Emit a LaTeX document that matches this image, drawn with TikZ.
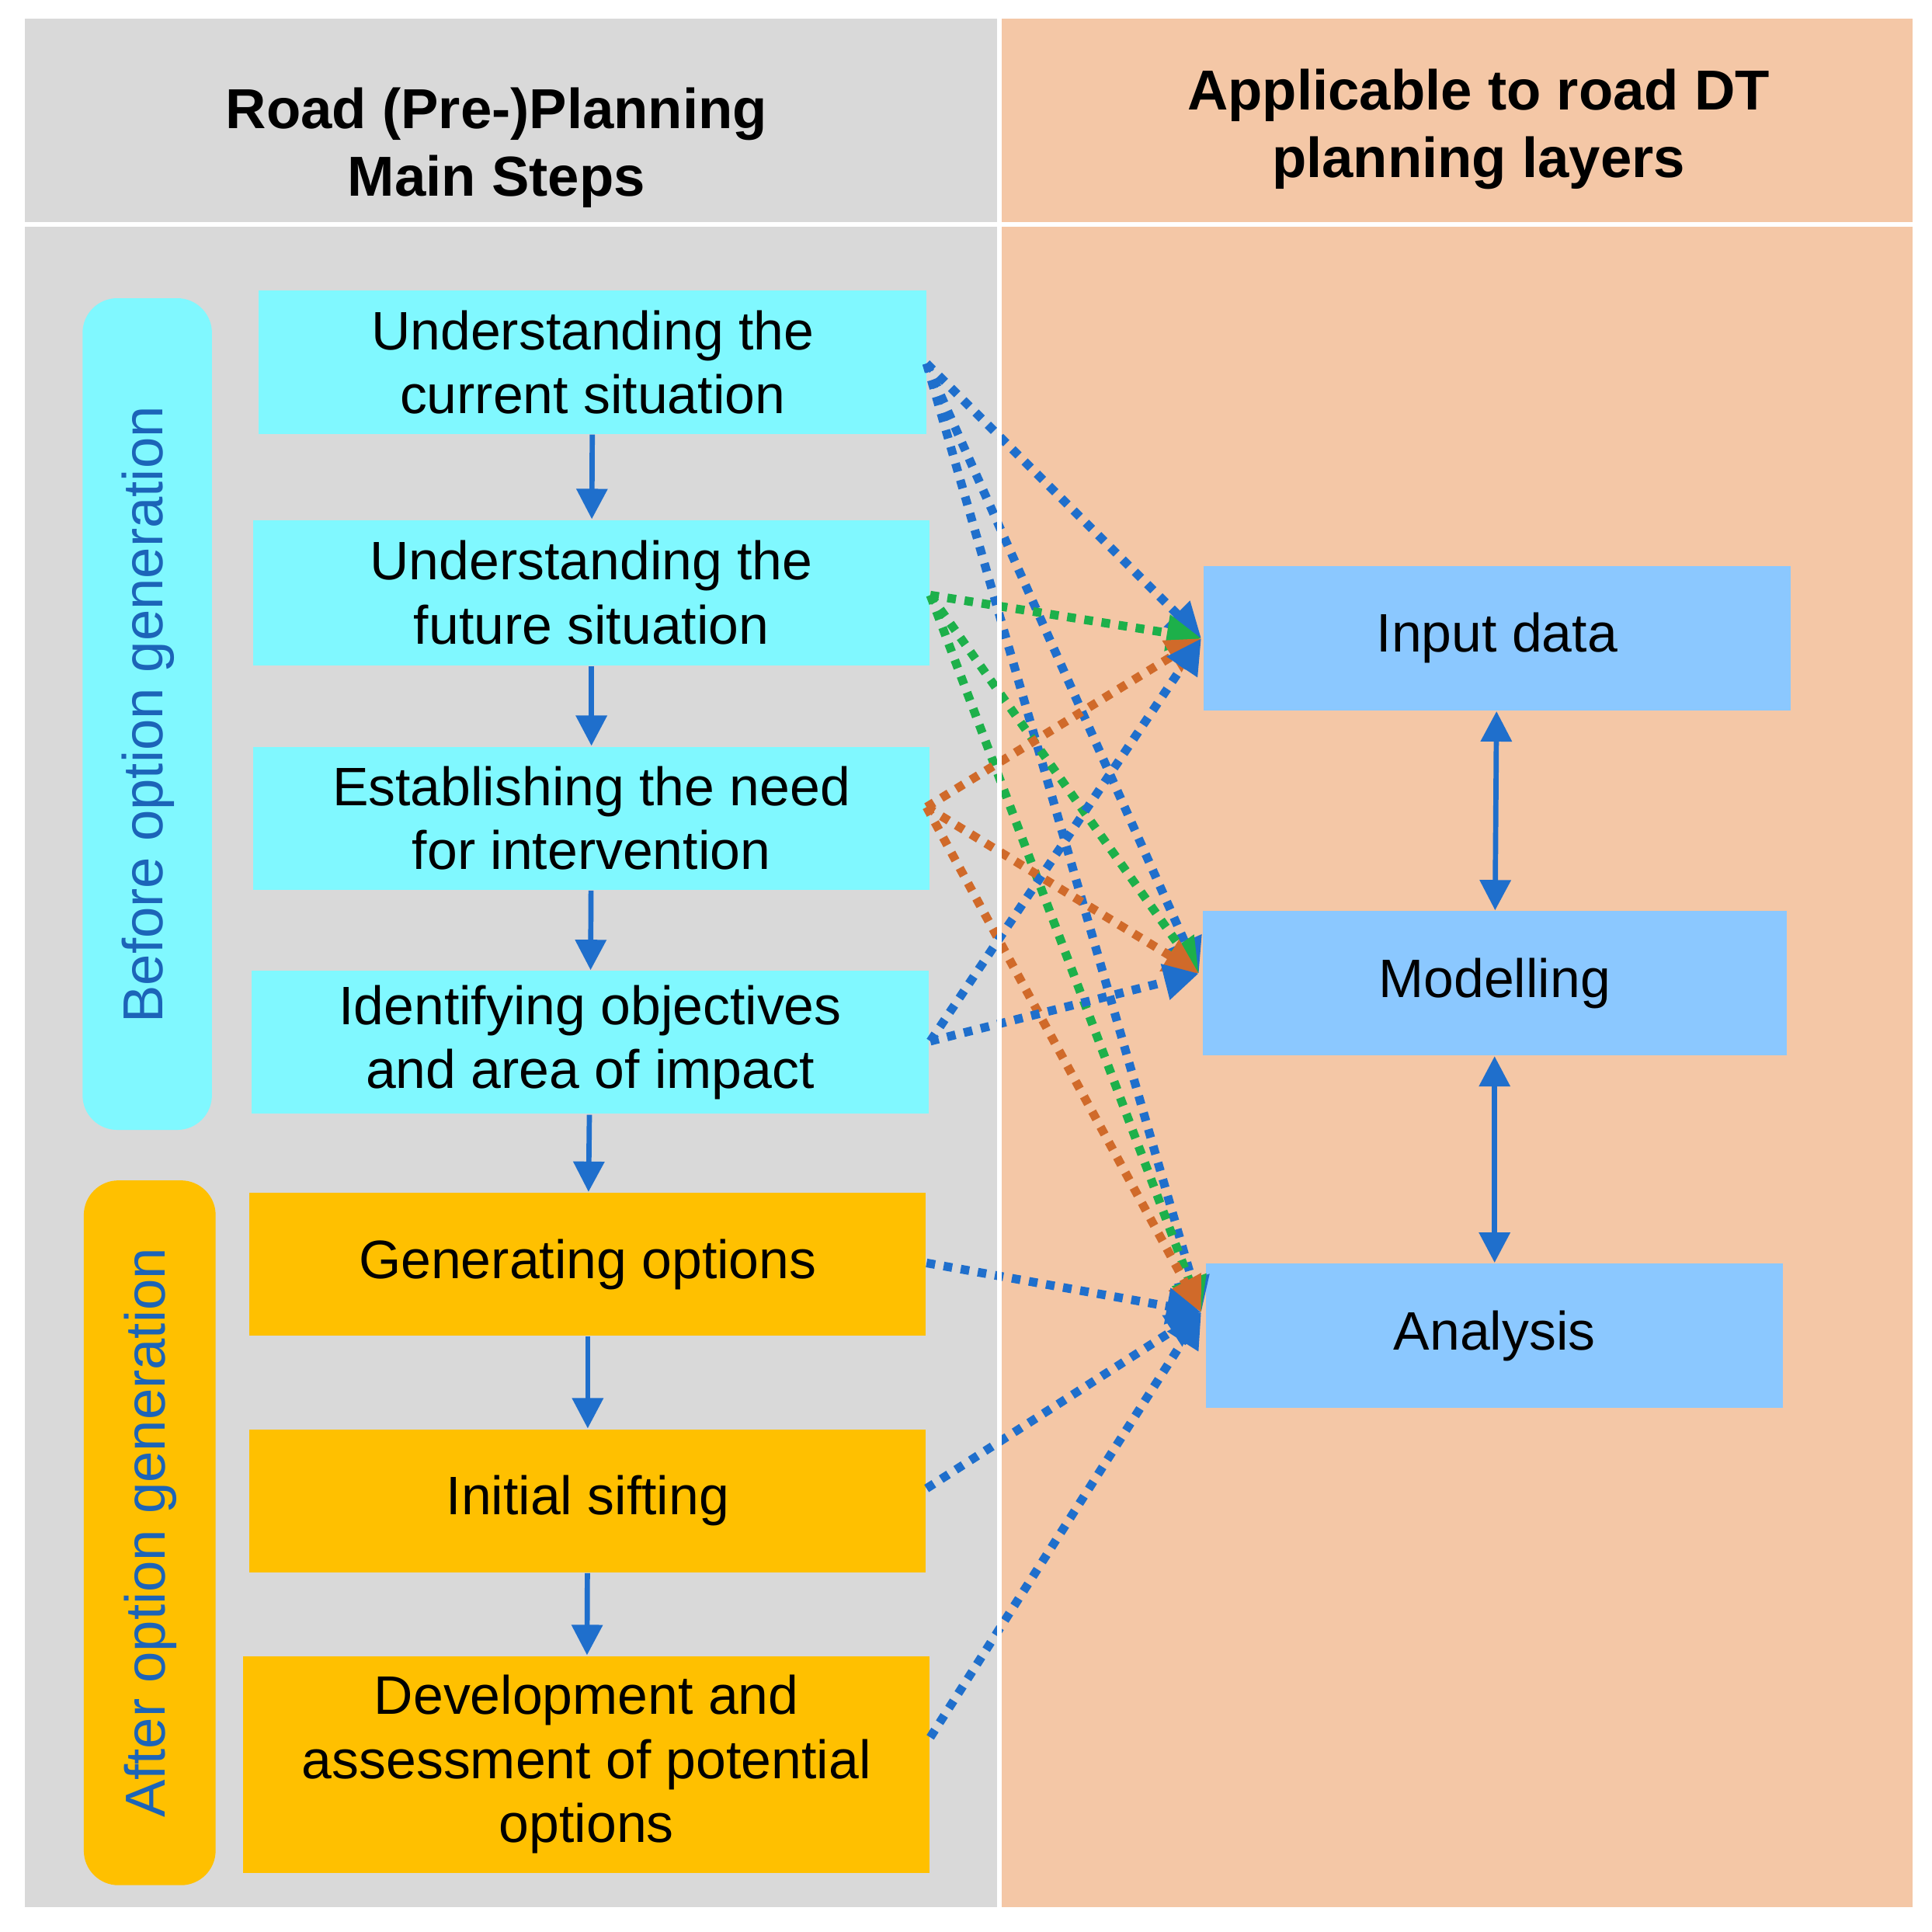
\documentclass[tikz,border=0pt]{standalone}
\usepackage{fontspec}
\setmainfont{Liberation Sans}
\usetikzlibrary{arrows.meta}
\definecolor{cy}{HTML}{80F8FF}
\definecolor{orb}{HTML}{FFC000}
\definecolor{lb}{HTML}{8BC8FF}
\definecolor{gr}{HTML}{D9D9D9}
\definecolor{pe}{HTML}{F4C7A6}
\definecolor{ab}{HTML}{1F6FCC}
\definecolor{dg}{HTML}{1DB04A}
\definecolor{do}{HTML}{D06A2A}
\begin{document}
\begin{tikzpicture}[x=0.01cm,y=-0.01cm,
  box/.style 2 args={draw=none,minimum width=#1*0.01cm,minimum height=#2*0.01cm,align=center,font=\fontsize{12.5}{14.8}\selectfont,inner sep=0pt},
  flow/.style={-{Triangle[length=7pt,width=7pt]},ab,line width=1.2pt},
  dual/.style={{Triangle[length=7pt,width=7pt]}-{Triangle[length=7pt,width=7pt]},ab,line width=1.2pt},
  dot/.style={dotted,line width=2pt,-{Triangle[length=8pt,width=8pt]}}]
\useasboundingbox (0,0) rectangle (1568,1568);
\fill[white] (0,0) rectangle (1568,1568);
\fill[gr] (20,15) rectangle (810,1548);
\fill[pe] (812,15) rectangle (1552,1548);
\draw[white,line width=1pt] (20,182) -- (1552,182);
\node[font=\bfseries\fontsize{13}{15.5}\selectfont,align=center] (h1) at (403,120) {Road (Pre-)Planning\\Main Steps};
\node[font=\bfseries\fontsize{13}{15.5}\selectfont,align=center] (h2) at (1200,105) {Applicable to road DT\\planning layers};
\fill[cy,rounded corners=8pt] (67,242) rectangle (172,917);
\node[rotate=90,font=\fontsize{13}{15}\selectfont,text=ab!90!black] (s1) at (120,580) {Before option generation};
\fill[orb,rounded corners=8pt] (68,958) rectangle (175,1530);
\node[rotate=90,font=\fontsize{13}{15}\selectfont,text=ab!90!black] (s2) at (122,1244) {After option generation};
\node[box={542}{116},fill=cy] (b1) at (481,294) {Understanding the\\current situation};
\node[box={549}{118},fill=cy] (b2) at (480,481) {Understanding the\\future situation};
\node[box={549}{116},fill=cy] (b3) at (480,664) {Establishing the need\\for intervention};
\node[box={550}{116},fill=cy] (b4) at (479,846) {Identifying objectives\\and area of impact};
\node[box={549}{116},fill=orb] (b5) at (477,1026) {Generating options};
\node[box={549}{116},fill=orb] (b6) at (477,1218) {Initial sifting};
\node[box={557}{176},fill=orb] (b7) at (476,1432) {Development and\\assessment of potential\\options};
\node[box={476}{117},fill=lb] (i) at (1215,518) {Input data};
\node[box={474}{117},fill=lb] (m) at (1213,798) {Modelling};
\node[box={468}{117},fill=lb] (a) at (1213,1084) {Analysis};
\foreach \p/\q in {b1/b2,b2/b3,b3/b4,b4/b5,b5/b6,b6/b7} \draw[flow] (\p) -- (\q);
\draw[dual] (i) -- (m);
\draw[dual] (m) -- (a);
\coordinate (o1) at (752,295); \coordinate (o2) at (755,483);
\coordinate (o3) at (752,655); \coordinate (o4) at (755,845);
\coordinate (o5) at (752,1025); \coordinate (o6) at (752,1208);
\coordinate (o7) at (755,1410);
\coordinate (ti) at (975,518); \coordinate (tm) at (973,790); \coordinate (ta) at (975,1065);
\draw[dot,ab] (o1) -- (ti);
\draw[dot,ab] (o1) -- (tm);
\draw[dot,ab] (o1) -- (ta);
\draw[dot,dg] (o2) -- (ti);
\draw[dot,dg] (o2) -- (tm);
\draw[dot,dg] (o2) -- (ta);
\draw[dot,do] (o3) -- (ti);
\draw[dot,do] (o3) -- (tm);
\draw[dot,do] (o3) -- (ta);
\draw[dot,ab] (o4) -- (ti);
\draw[dot,ab] (o4) -- (tm);
\draw[dot,ab] (o5) -- (ta);
\draw[dot,ab] (o6) -- (ta);
\draw[dot,ab] (o7) -- (ta);
\draw[white,line width=1pt] (811,15) -- (811,1548);
\end{tikzpicture}
\end{document}
